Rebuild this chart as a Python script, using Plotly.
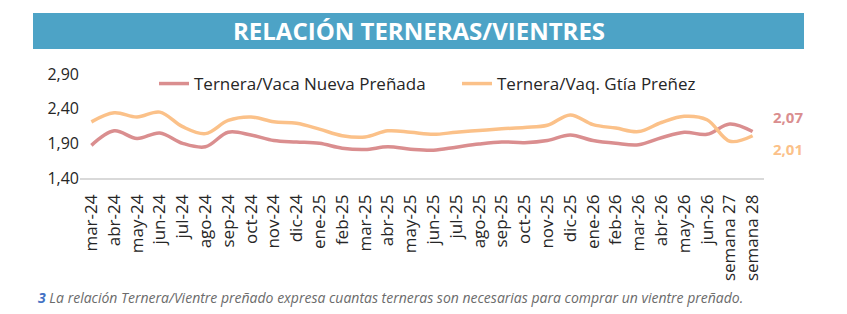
import plotly.graph_objects as go

categories = ["mar-24", "abr-24", "may-24", "jun-24", "jul-24", "ago-24", "sep-24", "oct-24",
              "nov-24", "dic-24", "ene-25", "feb-25", "mar-25", "abr-25", "may-25", "jun-25",
              "jul-25", "ago-25", "sep-25", "oct-25", "nov-25", "dic-25", "ene-26", "feb-26",
              "mar-26", "abr-26", "may-26", "jun-26", "semana 27", "semana 28"]

vaca_nueva = [1.87, 2.08, 1.97, 2.05, 1.90, 1.85, 2.06, 2.02,
              1.94, 1.92, 1.90, 1.83, 1.81, 1.85, 1.815, 1.80,
              1.845, 1.89, 1.92, 1.91, 1.94, 2.02, 1.94, 1.90,
              1.88, 1.98, 2.06, 2.03, 2.18, 2.07]

vaq_gtia = [2.21, 2.34, 2.28, 2.35, 2.14, 2.04, 2.23, 2.28,
            2.21, 2.19, 2.105, 2.01, 1.99, 2.08, 2.06, 2.03,
            2.06, 2.085, 2.11, 2.13, 2.16, 2.31, 2.17, 2.12,
            2.07, 2.20, 2.29, 2.24, 1.93, 2.01]

series_names = ["Ternera/Vaca Nueva Preñada", "Ternera/Vaq. Gtía Preñez"]
title_text = "RELACIÓN TERNERAS/VIENTRES"
footnote_num = "3"
footnote_text = "La relación Ternera/Vientre preñado expresa cuantas terneras son necesarias para comprar un vientre preñado."
y_ticks = [1.40, 1.90, 2.40, 2.90]

PINK = "#DA8E8F"
ORANGE = "#FBC189"
W, H = 847, 314
L, R, T, B = 80, 83, 74, 136
PW, PH = W - L - R, H - T - B


def px(x):
    return (x - L) / PW


def py(y):
    return (H - B - y) / PH


fig = go.Figure()
fig.add_trace(go.Scatter(x=categories, y=vaca_nueva, name=series_names[0], mode="lines",
                         line=dict(color=PINK, width=3.5, shape="spline", smoothing=1.0)))
fig.add_trace(go.Scatter(x=categories, y=vaq_gtia, name=series_names[1], mode="lines",
                         line=dict(color=ORANGE, width=3.5, shape="spline", smoothing=1.0)))

fmt = lambda v: f"{v:.2f}".replace(".", ",")

fig.update_layout(
    width=W, height=H,
    margin=dict(l=L, r=R, t=T, b=B),
    paper_bgcolor="white", plot_bgcolor="white",
    font=dict(family="Open Sans", color="#262626"),
    showlegend=True,
    legend=dict(orientation="h", x=px(154), xanchor="left", y=py(84), yanchor="middle",
                font=dict(size=17, color="#262626"), bgcolor="rgba(0,0,0,0)",
                itemwidth=30, entrywidth=258, entrywidthmode="pixels"),
    xaxis=dict(type="category", range=[-0.5, len(categories) - 0.5], tickangle=-90,
               showgrid=False, showline=True, linecolor="#D9D9D9", linewidth=1.5,
               ticks="", tickfont=dict(size=17, color="#262626"), zeroline=False,
               ticklabelstandoff=8),
    yaxis=dict(range=[1.40, 2.90], tickvals=y_ticks, ticktext=[fmt(v) for v in y_ticks],
               showgrid=False, zeroline=False, showline=False, ticks="",
               tickfont=dict(size=16, color="#262626")),
    shapes=[dict(type="rect", xref="paper", yref="paper", x0=px(33), x1=px(804),
                 y0=py(49), y1=py(13), fillcolor="#4DA3C6", line=dict(width=0), layer="below")],
    annotations=[
        dict(text=f"<b>{title_text}</b>", xref="paper", yref="paper", x=px(419), y=py(31),
             xanchor="center", yanchor="middle", showarrow=False,
             font=dict(size=24, color="white", family="Open Sans")),
        dict(text=f"<b>{fmt(vaca_nueva[-1])}</b>", xref="paper", yref="paper", x=px(771), y=py(117),
             xanchor="left", yanchor="middle", showarrow=False, font=dict(size=15, color=PINK)),
        dict(text=f"<b>{fmt(vaq_gtia[-1])}</b>", xref="paper", yref="paper", x=px(771), y=py(149),
             xanchor="left", yanchor="middle", showarrow=False, font=dict(size=15, color=ORANGE)),
        dict(text=(f"<b><i><span style='color:#4472C4'>{footnote_num}</span></i></b> "
                   f"<i>{footnote_text}</i>"), xref="paper", yref="paper",
             x=px(36), y=py(297), xanchor="left", yanchor="middle", showarrow=False,
             font=dict(size=14, color="#6B6B6B")),
    ],
)

fig.write_html("out.html")
